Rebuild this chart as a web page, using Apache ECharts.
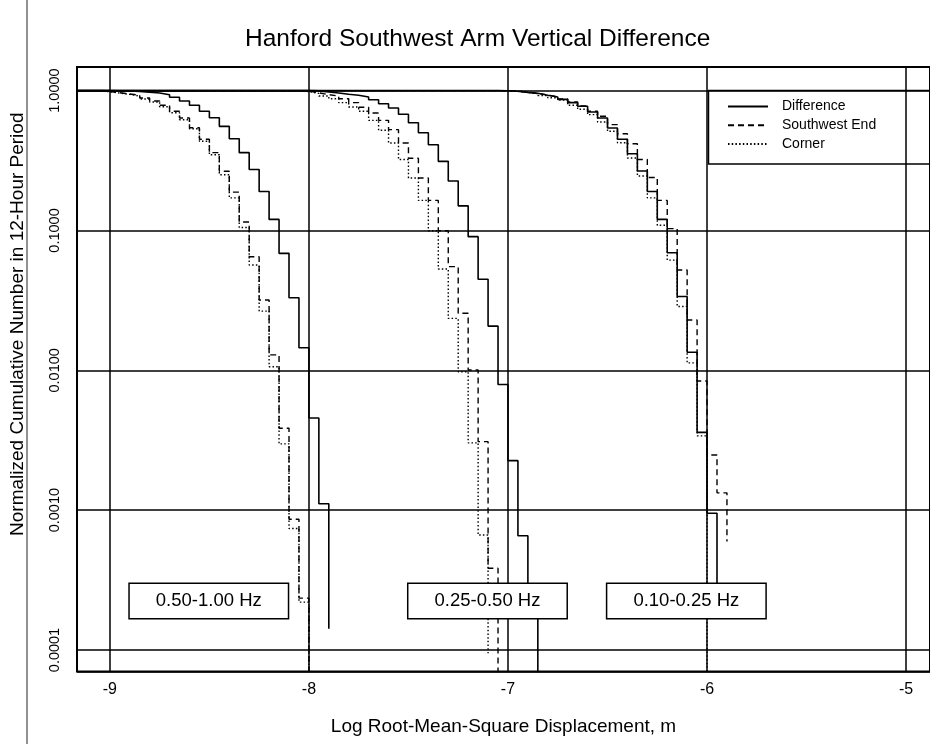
<!DOCTYPE html>
<html>
<head>
<meta charset="utf-8">
<script src="https://cdn.jsdelivr.net/npm/echarts@6/dist/echarts.min.js"></script>
<style>
html,body{margin:0;padding:0;background:#fff;}
#chart{width:930px;height:744px;}
</style>
</head>
<body>
<div id="chart"></div>
<script>
// ---- Data (log10 RMS displacement, normalized cumulative number) ----
const legendNames = ['Difference', 'Southwest End', 'Corner'];
const bandLabels = ['0.50-1.00 Hz', '0.25-0.50 Hz', '0.10-0.25 Hz'];
const bandLabelX = [-8.503, -7.103, -6.104];
const bandLabelY = [0.000224, 0.000224, 0.000224];
const xTickLabels = ['-9', '-8', '-7', '-6', '-5'];
const yTickLabels = ['0.0001', '0.0010', '0.0100', '0.1000', '1.0000'];

// 0.50-1.00 Hz
const diffA = [[-9.20,1.0],[-9.05,0.998],[-8.95,0.993],[-8.90,0.985],[-8.85,0.975],[-8.80,0.961],[-8.75,0.935],[-8.70,0.896],[-8.65,0.843],[-8.60,0.785],[-8.55,0.711],[-8.50,0.640],[-8.45,0.555],[-8.40,0.453],[-8.35,0.360],[-8.30,0.273],[-8.25,0.190],[-8.20,0.120],[-8.15,0.0686],[-8.10,0.0330],[-8.05,0.0145],[-8.00,0.00456],[-7.95,0.00111],[-7.90,0.000142]];
const swA = [[-9.20,1.0],[-9.10,0.995],[-9.05,0.985],[-9.00,0.965],[-8.95,0.946],[-8.90,0.926],[-8.85,0.885],[-8.80,0.843],[-8.75,0.785],[-8.70,0.711],[-8.65,0.637],[-8.60,0.543],[-8.55,0.449],[-8.50,0.360],[-8.45,0.265],[-8.40,0.188],[-8.35,0.115],[-8.30,0.0649],[-8.25,0.0318],[-8.20,0.0129],[-8.15,0.00385],[-8.10,0.00086],[-8.05,0.000235],[-8.00,0.00001]];
const cornerA = [[-9.20,1.0],[-9.10,0.993],[-9.05,0.982],[-9.00,0.96],[-8.95,0.94],[-8.90,0.915],[-8.85,0.87],[-8.80,0.829],[-8.75,0.767],[-8.70,0.695],[-8.65,0.619],[-8.60,0.534],[-8.55,0.434],[-8.50,0.348],[-8.45,0.250],[-8.40,0.171],[-8.35,0.105],[-8.30,0.0566],[-8.25,0.0265],[-8.20,0.0106],[-8.15,0.00298],[-8.10,0.00074],[-8.05,0.00022],[-8.00,0.00001]];

// 0.25-0.50 Hz
const diffB = [[-9.20,1.0],[-8.00,0.995],[-7.95,0.98],[-7.90,0.961],[-7.85,0.941],[-7.80,0.926],[-7.75,0.900],[-7.70,0.861],[-7.65,0.806],[-7.60,0.751],[-7.55,0.677],[-7.50,0.589],[-7.45,0.500],[-7.40,0.410],[-7.35,0.312],[-7.30,0.226],[-7.25,0.150],[-7.20,0.0903],[-7.15,0.0448],[-7.10,0.0207],[-7.05,0.00792],[-7.00,0.00226],[-6.95,0.000656],[-6.90,0.000227],[-6.85,0.00001]];
const swB = [[-9.20,1.0],[-8.05,0.99],[-8.00,0.965],[-7.95,0.935],[-7.90,0.915],[-7.85,0.875],[-7.80,0.820],[-7.75,0.760],[-7.70,0.691],[-7.65,0.613],[-7.60,0.526],[-7.55,0.422],[-7.50,0.328],[-7.45,0.237],[-7.40,0.164],[-7.35,0.0996],[-7.30,0.0551],[-7.25,0.0256],[-7.20,0.01005],[-7.15,0.00309],[-7.10,0.000384],[-7.05,0.00001]];
const cornerB = [[-9.20,1.0],[-8.05,0.985],[-8.00,0.955],[-7.95,0.915],[-7.90,0.875],[-7.85,0.820],[-7.80,0.764],[-7.75,0.711],[-7.70,0.613],[-7.65,0.520],[-7.60,0.422],[-7.55,0.322],[-7.50,0.237],[-7.45,0.164],[-7.40,0.0996],[-7.35,0.0530],[-7.30,0.0235],[-7.25,0.00977],[-7.20,0.00303],[-7.15,0.000664],[-7.10,0.000095]];

// 0.10-0.25 Hz
const diffC = [[-9.20,1.0],[-7.05,0.998],[-7.00,0.99],[-6.95,0.972],[-6.90,0.956],[-6.85,0.926],[-6.80,0.900],[-6.75,0.866],[-6.70,0.820],[-6.65,0.772],[-6.60,0.703],[-6.55,0.637],[-6.50,0.540],[-6.45,0.449],[-6.40,0.354],[-6.35,0.266],[-6.30,0.190],[-6.25,0.120],[-6.20,0.0693],[-6.15,0.0337],[-6.10,0.01345],[-6.05,0.0036],[-6.00,0.00095],[-5.95,0.000228]];
const swC = [[-9.20,1.0],[-7.05,0.998],[-7.00,0.992],[-6.95,0.975],[-6.90,0.958],[-6.85,0.93],[-6.80,0.905],[-6.75,0.87],[-6.70,0.829],[-6.65,0.776],[-6.60,0.711],[-6.55,0.655],[-6.50,0.571],[-6.45,0.492],[-6.40,0.417],[-6.35,0.322],[-6.30,0.239],[-6.25,0.164],[-6.20,0.103],[-6.15,0.0521],[-6.10,0.0229],[-6.05,0.00838],[-6.00,0.00248],[-5.95,0.00133],[-5.90,0.000596]];
const cornerC = [[-9.20,1.0],[-7.05,0.997],[-7.00,0.988],[-6.95,0.97],[-6.90,0.952],[-6.85,0.92],[-6.80,0.89],[-6.75,0.855],[-6.70,0.785],[-6.65,0.735],[-6.60,0.673],[-6.55,0.596],[-6.50,0.512],[-6.45,0.424],[-6.40,0.330],[-6.35,0.245],[-6.30,0.171],[-6.25,0.109],[-6.20,0.0614],[-6.15,0.0286],[-6.10,0.0113],[-6.05,0.0034],[-6.00,0.00001]];

// ---- Chart ----
const FONT = '"Liberation Sans", Arial, Helvetica, sans-serif';
const styles = {
  'Difference':    { type: 'solid', width: 1.6, z: 4 },
  'Southwest End': { type: [6, 4], width: 1.4, z: 3 },
  'Corner':        { type: [1.5, 2.2], width: 1.4, z: 2 }
};
function stepSeries(name, data) {
  const s = styles[name];
  return {
    name: name, type: 'line', step: 'end', data: data,
    symbol: 'none', showSymbol: false, clip: true, z: s.z,
    lineStyle: { color: '#000', width: s.width, type: s.type },
    itemStyle: { color: '#000' },
    emphasis: { disabled: true }, silent: true
  };
}
const series = [
  stepSeries('Corner', cornerA), stepSeries('Corner', cornerB), stepSeries('Corner', cornerC),
  stepSeries('Southwest End', swA), stepSeries('Southwest End', swB), stepSeries('Southwest End', swC),
  stepSeries('Difference', diffA), stepSeries('Difference', diffB), stepSeries('Difference', diffC),
  {
    name: 'bands', type: 'scatter', z: 10, zlevel: 0, silent: true,
    symbol: 'circle', symbolSize: 0.1,
    data: bandLabels.map((t, i) => [bandLabelX[i], bandLabelY[i]]),
    itemStyle: { color: '#fff', opacity: 1 },
    label: {
      show: true, position: 'inside', color: '#000', fontFamily: FONT, fontSize: 18.5,
      width: 158, height: 34, lineHeight: 34, align: 'center', verticalAlign: 'middle',
      backgroundColor: '#fff', borderColor: '#000', borderWidth: 1.5, padding: 0, opacity: 1,
      formatter: p => bandLabels[p.dataIndex]
    },
    emphasis: { disabled: true }
  }
];

const chart = echarts.init(document.getElementById('chart'), null, { renderer: 'canvas' });
chart.setOption({
  animation: false,
  backgroundColor: '#fff',
  title: {
    text: 'Hanford Southwest Arm Vertical Difference',
    left: 245, top: 27, padding: 0,
    textStyle: { fontFamily: FONT, fontSize: 24.5, fontWeight: 'normal', color: '#000' }
  },
  legend: {
    data: legendNames, orient: 'vertical', selectedMode: false,
    left: 708.5, top: 90.6,
    padding: [8, 70, 12, 18.5],
    borderColor: '#000', borderWidth: 1.5,
    itemWidth: 40, itemHeight: 12, itemGap: 2.7,
    itemStyle: { color: 'rgba(0,0,0,0)', borderWidth: 0, opacity: 0 },
    textStyle: { fontFamily: FONT, fontSize: 14, color: '#000', lineHeight: 16, padding: [0, 0, 0, 9] }
  },
  grid: {
    left: 77, top: 67, right: -3, bottom: 72.5,
    show: true, borderColor: '#000', borderWidth: 2, backgroundColor: 'transparent'
  },
  xAxis: {
    type: 'value', min: -9.165, max: -4.88,
    name: 'Log Root-Mean-Square Displacement, m', nameLocation: 'middle', nameGap: 46,
    nameTextStyle: { fontFamily: FONT, fontSize: 19, color: '#000' },
    axisLine: { show: false }, axisTick: { show: false },
    axisLabel: { fontFamily: FONT, fontSize: 16, color: '#000', margin: 10,
                 showMinLabel: false, showMaxLabel: false,
                 formatter: v => xTickLabels[Math.round(v) + 9] },
    splitLine: { show: true, lineStyle: { color: '#000', width: 1.5 } }
  },
  yAxis: {
    type: 'log', logBase: 10, min: 0.0000702, max: 1.475,
    name: 'Normalized Cumulative Number in 12-Hour Period', nameLocation: 'middle', nameGap: 50,
    nameRotate: 90,
    nameTextStyle: { fontFamily: FONT, fontSize: 19, color: '#000', padding: [0, 0, 0, 90] },
    axisLine: { show: false }, axisTick: { show: false },
    axisLabel: { fontFamily: FONT, fontSize: 14.5, color: '#000', margin: 15, rotate: 90,
                 showMinLabel: false, showMaxLabel: false,
                 formatter: v => yTickLabels[Math.round(Math.log10(v)) + 4] },
    splitLine: { show: true, lineStyle: { color: '#000', width: 1.5 } }
  },
  graphic: [
    { type: 'line', silent: true, shape: { x1: 27, y1: 0, x2: 27, y2: 744 },
      style: { stroke: '#222', lineWidth: 1 } }
  ],
  series: series
});
</script>
</body>
</html>
